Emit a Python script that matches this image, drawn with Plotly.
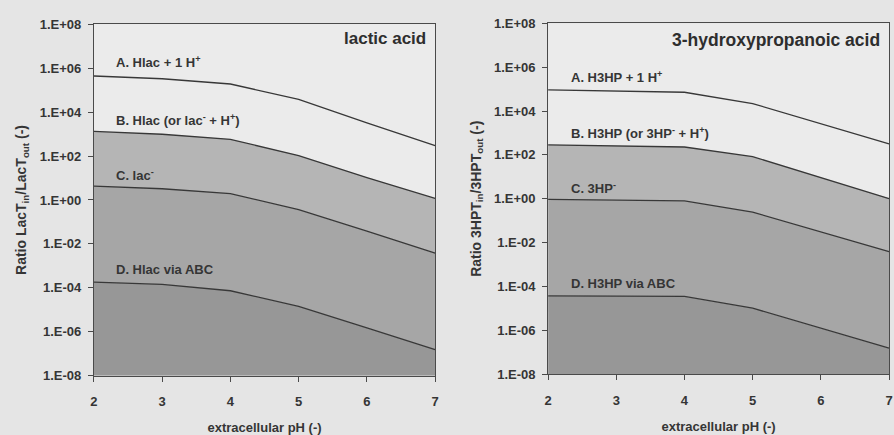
import plotly.graph_objects as go

# extracellular pH grid
ph = [2, 3, 4, 5, 6, 7]

# lactic acid: LacT_in / LacT_out ratio per export mechanism
lac_a = [4.4e5, 3.3e5, 1.9e5, 3.8e4, 3.2e3, 2.95e2]
lac_b = [1.32e3, 9.8e2, 5.75e2, 1.05e2, 1.05e1, 1.17]
lac_c = [4.27, 3.24, 1.95, 0.363, 0.038, 0.0038]
lac_d = [1.82e-4, 1.45e-4, 7.4e-5, 1.45e-5, 1.51e-6, 1.55e-7]

# 3-hydroxypropanoic acid: 3HPT_in / 3HPT_out ratio per export mechanism
hp_a = [9.3e4, 8.1e4, 7.2e4, 2.2e4, 2.6e3, 3.16e2]
hp_b = [2.88e2, 2.63e2, 2.29e2, 8.3e1, 9.1, 1.02]
hp_c = [0.93, 0.85, 0.79, 0.245, 0.030, 0.0039]
hp_d = [3.7e-5, 3.6e-5, 3.5e-5, 1.02e-5, 1.23e-6, 1.51e-7]

# axis floor used as the base of the stacked shading
y_floor = 1e-8

y_tick_vals = [1e-8, 1e-6, 1e-4, 1e-2, 1e0, 1e2, 1e4, 1e6, 1e8]
y_tick_text = ["1.E-08", "1.E-06", "1.E-04", "1.E-02", "1.E+00",
               "1.E+02", "1.E+04", "1.E+06", "1.E+08"]
x_tick_vals = [2, 3, 4, 5, 6, 7]

lac_labels = ["A. Hlac + 1 H<sup>+</sup>",
              "B. Hlac (or lac<sup>-</sup> + H<sup>+</sup>)",
              "C. lac<sup>-</sup>",
              "D. Hlac via ABC"]
hp_labels = ["A. H3HP + 1 H<sup>+</sup>",
             "B. H3HP (or 3HP<sup>-</sup> + H<sup>+</sup>)",
             "C. 3HP<sup>-</sup>",
             "D. H3HP via ABC"]
lac_label_y = [6.29, 3.64, 1.14, -3.15]
hp_label_y = [5.55, 2.99, 0.49, -3.86]

LINE = "#383838"
TEXT = "#353535"
FILL_D = "#979797"
FILL_C = "#a6a6a6"
FILL_B = "#b5b5b5"
FONT = "Liberation Sans"

fig = go.Figure()


def add_panel(xa, ya, a, b, c, d):
    base = [y_floor] * len(ph)
    fig.add_trace(go.Scatter(x=ph, y=base, mode="lines", line=dict(width=0),
                             xaxis=xa, yaxis=ya, showlegend=False, hoverinfo="skip"))
    for ser, col in ((d, FILL_D), (c, FILL_C), (b, FILL_B)):
        fig.add_trace(go.Scatter(x=ph, y=ser, mode="lines", fill="tonexty",
                                 fillcolor=col, line=dict(color=LINE, width=1.3),
                                 xaxis=xa, yaxis=ya, showlegend=False))
    fig.add_trace(go.Scatter(x=ph, y=a, mode="lines",
                             line=dict(color=LINE, width=1.3),
                             xaxis=xa, yaxis=ya, showlegend=False))


add_panel("x", "y", lac_a, lac_b, lac_c, lac_d)
add_panel("x2", "y2", hp_a, hp_b, hp_c, hp_d)

axis_common = dict(showline=True, linecolor="#4a4a4a", linewidth=1, mirror=True,
                   ticks="outside", ticklen=5, tickcolor="#4a4a4a", showgrid=False,
                   zeroline=False,
                   tickfont=dict(family=FONT, size=13, color=TEXT, weight="bold"))

xcommon = dict(axis_common, range=[2, 7], tickvals=x_tick_vals, ticklabelstandoff=9,
               title=dict(text="extracellular pH (-)", standoff=15,
                          font=dict(family=FONT, size=13, color=TEXT, weight="bold")))
ycommon = dict(axis_common, type="log", range=[-8, 8], ticklabelstandoff=4,
               tickvals=y_tick_vals, ticktext=y_tick_text)

fig.update_layout(
    width=894, height=435,
    margin=dict(l=0, r=0, t=0, b=0),
    paper_bgcolor="#e5e5e5",
    plot_bgcolor="#ebebeb",
    xaxis=dict(xcommon, domain=[0.1015, 0.4866], anchor="y"),
    xaxis2=dict(xcommon, domain=[0.6141, 0.9989], anchor="y2"),
    yaxis=dict(ycommon, domain=[0.122, 0.959], anchor="x",
               title=dict(text="Ratio LacT<sub>in</sub>/LacT<sub>out</sub> (-)", standoff=9,
                          font=dict(family=FONT, size=14, color=TEXT, weight="bold"))),
    yaxis2=dict(ycommon, domain=[0.126, 0.961], anchor="x2",
                title=dict(text="Ratio 3HPT<sub>in</sub>/3HPT<sub>out</sub> (-)", standoff=9,
                           font=dict(family=FONT, size=14, color=TEXT, weight="bold"))),
)

annotations = []
for txt, yl in zip(lac_labels, lac_label_y):
    annotations.append(dict(x=2.3, y=yl, xref="x", yref="y", text=txt, showarrow=False,
                            xanchor="left", yanchor="middle",
                            font=dict(family=FONT, size=13, color=TEXT, weight="bold")))
for txt, yl in zip(hp_labels, hp_label_y):
    annotations.append(dict(x=2.31, y=yl, xref="x2", yref="y2", text=txt, showarrow=False,
                            xanchor="left", yanchor="middle",
                            font=dict(family=FONT, size=13, color=TEXT, weight="bold")))
annotations.append(dict(x=6.9, y=7.33, xref="x", yref="y", text="lactic acid",
                        showarrow=False, xanchor="right", yanchor="middle",
                        font=dict(family=FONT, size=17, color="#2e2e2e", weight="bold")))
annotations.append(dict(x=6.9, y=7.24, xref="x2", yref="y2", text="3-hydroxypropanoic acid",
                        showarrow=False, xanchor="right", yanchor="middle",
                        font=dict(family=FONT, size=17.5, color="#2e2e2e", weight="bold")))
fig.update_layout(annotations=annotations)

fig.write_html("out.html")
